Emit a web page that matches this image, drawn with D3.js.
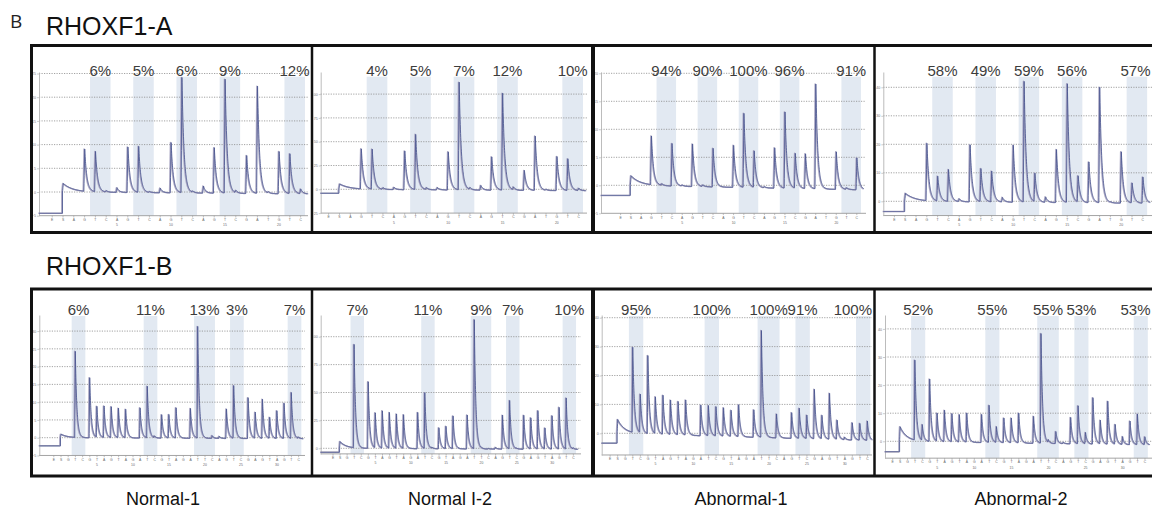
<!DOCTYPE html>
<html>
<head>
<meta charset="utf-8">
<script src="https://cdn.jsdelivr.net/npm/d3@7"></script>
<style>
  body { margin: 0; background: #fff; }
  svg { display: block; }
  text { font-family: "Liberation Sans", Arial, sans-serif; }
</style>
</head>
<body>
<svg id="fig" width="1152" height="517"></svg>
<script>
// ---- data ----
const samples = ['Normal-1', 'Normal I-2', 'Abnormal-1', 'Abnormal-2'];
const assays = ['RHOXF1-A', 'RHOXF1-B'];

// dispensation order (E, S, then 1..n)
const dispA = ['E','S','A','G','T','C','A','G','T','C','A','G','T','C','A','G','T','C','G','A','T','G','T','C'];
const dispB = ['E','S','G','T','C','G','T','A','G','T','A','G','A','T','C','G','T','A','G','A','T','T','C','A','G','T','C','G','A','G','T','A','G','T','C'];
const numsA = [5, 10, 15, 20];
const numsB = [5, 10, 15, 20, 25, 30];

// CpG sites: first dispensation and number of dispensations covered
const sitesA = [3, 7, 11, 15, 21];
const spanA = [2, 2, 2, 2, 2];
const sitesB = [2, 12, 19, 24, 32];
const spanB = [2, 2, 3, 2, 2];

// methylation %, one row per sample
const methA = [[6, 5, 6, 9, 12], [4, 5, 7, 12, 10], [94, 90, 100, 96, 91], [58, 49, 59, 56, 57]];
const methB = [[6, 11, 13, 3, 7], [7, 11, 9, 7, 10], [95, 100, 100, 91, 100], [52, 55, 55, 53, 53]];

// peak heights for dispensations 1..n
const peaksA1 = [0, 8.9, 8.5, 0.3, 1, 9.6, 9.7, 0.2, 1, 10.6, 24.3, 0.3, 1.5, 9.6, 24, 0.5, 8, 22.6, 0.3, 8.9, 8.4, 1];
const peaksA2 = [0, 42, 42, 1.7, 2.5, 40.7, 57.9, 2, 2.5, 40, 113, 2, 5, 35, 101.7, 3, 21, 57, 1, 35.8, 33.3, 2.5];
const peaksA3 = [0, 8.7, 0.3, 7.6, 0.2, 7.6, 0.3, 6.9, 0, 7.5, 13.2, 6.5, 0.2, 7.2, 13.6, 6.2, 6.2, 18.7, 0, 6.7, 0.3, 5.7];
const peaksA4 = [0, 20.1, 8.7, 11.2, 1, 20, 11.6, 10.8, 1.6, 20, 42.3, 10, 1.9, 18.6, 41.6, 9.2, 14.3, 40.5, 0.2, 18, 7, 9.2];

const peaksB1 = [0, 24.2, 0, 16.9, 8.7, 8.9, 8.7, 8.3, 8, 0, 8.5, 14.5, 0.5, 6.6, 6.6, 8.5, 0, 8.4, 31.4, 0, 0.8, 0.6, 8.3, 14.8, 0, 11.5, 7.3, 11, 5.9, 7.8, 9.9, 12.9, 0.4];
const peaksB2 = [0, 92.5, 0, 59.7, 31.3, 33.4, 32, 30.7, 30.1, 0, 32.5, 49.9, 1, 18.8, 20, 29.3, 0, 30.4, 115.5, 0.5, 0.5, 1.5, 30.4, 43.3, 0.5, 30.4, 27.8, 34.3, 18.8, 29.9, 37.3, 45.7, 1];
const peaksB3 = [0, 29.4, 13.3, 27, 12.7, 13.5, 11.9, 11.5, 12.1, 0, 10.6, 10.4, 10.1, 9.8, 9, 11, 0, 9.5, 36.9, 0, 8.3, 0, 8.9, 10.4, 8.1, 17.1, 8.1, 15.9, 6.6, 0.9, 6, 5.8, 6.7];
const peaksB4 = [0, 28.4, 5.6, 22.2, 10, 11.2, 10, 9.7, 10.3, 0, 10, 13.2, 5.6, 8.8, 8.8, 10.6, 0, 9.6, 39, 1, 4.3, 0.5, 9.4, 13.5, 4, 16.5, 8.4, 15.3, 7, 2.8, 8.4, 10.9, 2.8];

// signal before substrate, substrate step, baseline at end of run
const preA = [-4.5, -4.2, -1.8, -3.6];
const stepA = [1.8, 5.6, 1.7, 2.8];
const driftA = [-0.4, -1.5, -0.8, -0.7];
const preB = [-2.3, -3.6, -3.4, -3.7];
const stepB = [1, 6, 4.8, 5.2];
const driftB = [-0.3, -1, -2.5, -1.3];

// ---- layout ----
const rowLayout = [
  { top: 45.5, bottom: 232.5, yTop: 72, bandTop: 76.7, labelY: 75.5, titleY: 35, tau: 0.2 },
  { top: 289, bottom: 476, yTop: 315, bandTop: 316, labelY: 314.5, titleY: 275, tau: 0.22 }
];
const panelLeft = [32.5, 313.5, 595, 876];
const panelRight = [311, 591, 873.5, 1152];
const sepX = [312, 593, 874.5];
const sepW = [2.5, 4, 2.5];
const sampleX = [163, 450, 741, 1021];

const panelLayout = [
  [
    { x0: 39, xE: 51.7, step: 10.8, xEnd: 308, zeroY: 192, gridStep: 5, gridPx: 23.7, ymin: -5 },
    { x0: 320.7, xE: 328.1, step: 10.87, xEnd: 587, zeroY: 189.3, gridStep: 25, gridPx: 23.8, ymin: -25 },
    { x0: 601, xE: 620.1, step: 10.27, xEnd: 866, zeroY: 185.3, gridStep: 5, gridPx: 28, ymin: -5 },
    { x0: 883.3, xE: 893.9, step: 10.8, xEnd: 1160, zeroY: 201.3, gridStep: 10, gridPx: 28.5, ymin: -5 }
  ],
  [
    { x0: 39.3, xE: 53.3, step: 7.2, xEnd: 305, zeroY: 437.7, gridStep: 5, gridPx: 17.77, ymin: -5 },
    { x0: 320.7, xE: 332.5, step: 7.07, xEnd: 581, zeroY: 448.3, gridStep: 25, gridPx: 27.9, ymin: -5 },
    { x0: 601.7, xE: 609.6, step: 7.57, xEnd: 872, zeroY: 433.3, gridStep: 10, gridPx: 28.9, ymin: -7.5 },
    { x0: 885, xE: 892.2, step: 7.42, xEnd: 1160, zeroY: 441.3, gridStep: 10, gridPx: 28.1, ymin: -6 }
  ]
];

const rowsData = [
  { disp: dispA, nums: numsA, sites: sitesA, span: spanA, meth: methA,
    peaks: [peaksA1, peaksA2, peaksA3, peaksA4], pre: preA, sub: stepA, drift: driftA },
  { disp: dispB, nums: numsB, sites: sitesB, span: spanB, meth: methB,
    peaks: [peaksB1, peaksB2, peaksB3, peaksB4], pre: preB, sub: stepB, drift: driftB }
];

const svg = d3.select('#fig');
const defs = svg.append('defs');

svg.append('text')
  .attr('x', 10).attr('y', 28)
  .style('font-family', '"Open Sans", "Noto Sans", sans-serif')
  .style('font-size', '19px')
  .attr('fill', '#222')
  .text('B');

// peak shape: quick rise, exponential decay
const RISE = 0.08;
function shape(u, tau) {
  if (u < 0) return 0;
  if (u < RISE) return u / RISE;
  return Math.exp(-(u - RISE) / tau);
}

function buildTrace(heights, pre, sub, drift, t0, t1, tau) {
  const n = heights.length;
  let ts = d3.range(t0, t1, 0.015);
  heights.forEach((h, i) => { const p = i + 1 - 0.02; ts.push(p, p + RISE); });
  ts.push(-0.0001, 0, RISE, t1);
  ts = Array.from(new Set(ts.map(t => +t.toFixed(4)))).sort((a, b) => a - b);
  return ts.map(t => {
    if (t < 0) return [t, pre];
    let v = drift * t / n + sub * shape(t, 0.9);
    heights.forEach((h, i) => { v += h * shape(t - (i + 1 - 0.02), tau); });
    return [t, v];
  });
}

rowLayout.forEach((row, r) => {
  const D = rowsData[r];
  const n = D.disp.length - 2;

  svg.append('text')
    .attr('x', 46).attr('y', row.titleY)
    .style('font-size', '25px')
    .attr('fill', '#111')
    .text(assays[r]);

  panelLayout[r].forEach((L, k) => {
    const clipId = `clip-${r}-${k}`;
    defs.append('clipPath').attr('id', clipId)
      .append('rect')
      .attr('x', panelLeft[k]).attr('y', row.top + 1.5)
      .attr('width', panelRight[k] - panelLeft[k])
      .attr('height', row.bottom - row.top - 3);

    const g = svg.append('g').attr('clip-path', `url(#${clipId})`);

    const x = d3.scaleLinear().domain([-1, n]).range([L.xE, L.xE + (n + 1) * L.step]);
    const unit = L.gridPx / L.gridStep;
    const ymax = (L.zeroY - row.yTop) / unit;
    const y = d3.scaleLinear().domain([L.ymin, ymax]).range([L.zeroY - L.ymin * unit, row.yTop]);
    const axisY = y(L.ymin);

    // CpG bands
    g.selectAll('rect.band')
      .data(D.sites.map((s, i) => ({ s, w: D.span[i] })))
      .enter().append('rect')
      .attr('class', 'band')
      .attr('x', d => x(d.s - 0.45))
      .attr('width', d => x(d.s + d.w - 0.55) - x(d.s - 0.45))
      .attr('y', row.bandTop)
      .attr('height', axisY - row.bandTop)
      .attr('fill', '#e2e9f2');

    // dotted grid
    const gridVals = d3.range(0, ymax + 1e-6, L.gridStep);
    g.selectAll('line.grid')
      .data(gridVals)
      .enter().append('line')
      .attr('x1', L.x0).attr('x2', L.xEnd)
      .attr('y1', d => y(d)).attr('y2', d => y(d))
      .attr('stroke', '#8c8c8c')
      .attr('stroke-width', 0.8)
      .attr('stroke-dasharray', '1.2,1.3');

    // x axis line
    g.append('line')
      .attr('x1', L.x0).attr('x2', L.xEnd)
      .attr('y1', axisY).attr('y2', axisY)
      .attr('stroke', '#9a9a9a').attr('stroke-width', 0.9);

    // y axis
    const yTicks = d3.range(Math.ceil(L.ymin / L.gridStep) * L.gridStep, ymax + 1e-6, L.gridStep);
    const ya = g.append('g')
      .attr('transform', `translate(${L.x0},0)`)
      .call(d3.axisLeft(y).tickValues(yTicks).tickSize(2).tickSizeOuter(0).tickPadding(1));
    ya.select('.domain').attr('stroke', '#b4b4b4').attr('stroke-width', 0.9);
    ya.selectAll('.tick line').attr('stroke', '#aaa').attr('stroke-width', 0.6);
    ya.selectAll('.tick text').attr('fill', '#777').style('font-size', '3.6px');

    // dispensation letters
    const xa = g.append('g')
      .attr('transform', `translate(0,${axisY})`)
      .call(d3.axisBottom(x).tickValues(d3.range(-1, n + 1)).tickSize(1.8).tickPadding(1)
        .tickFormat(i => D.disp[i + 1]));
    xa.select('.domain').remove();
    xa.selectAll('.tick line').attr('stroke', '#999').attr('stroke-width', 0.6);
    xa.selectAll('.tick text').attr('fill', '#666').style('font-size', '3.4px');

    const xn = g.append('g')
      .attr('transform', `translate(0,${axisY + 7})`)
      .call(d3.axisBottom(x).tickValues(D.nums).tickSize(0).tickPadding(1));
    xn.select('.domain').remove();
    xn.selectAll('.tick text').attr('fill', '#666').style('font-size', '3.4px');

    // trace
    const t0 = x.invert(L.x0);
    const t1 = n + 0.75;
    const pts = buildTrace(D.peaks[k], D.pre[k], D.sub[k], D.drift[k], t0, t1, row.tau);
    const line = d3.line().x(d => x(d[0])).y(d => y(d[1]));
    g.append('path')
      .attr('d', line(pts))
      .attr('transform', 'translate(-0.7,0)')
      .attr('fill', 'none')
      .attr('stroke', '#aeabc6')
      .attr('stroke-width', 1.5)
      .attr('stroke-linejoin', 'round');
    g.append('path')
      .attr('d', line(pts))
      .attr('fill', 'none')
      .attr('stroke', '#4a5690')
      .attr('stroke-width', 0.85)
      .attr('stroke-linejoin', 'round');

    // methylation labels, kept inside the panel
    const maxX = Math.min(panelRight[k], 1152) - 1.5;
    g.selectAll('text.pct')
      .data(D.sites.map((s, i) => ({ c: s + (D.span[i] - 1) / 2, m: D.meth[k][i] })))
      .enter().append('text')
      .attr('class', 'pct')
      .attr('x', d => x(d.c))
      .attr('y', row.labelY)
      .attr('text-anchor', 'middle')
      .style('font-size', '15px')
      .attr('fill', '#3c3c3c')
      .text(d => d.m + '%')
      .each(function () {
        const w = this.getComputedTextLength();
        const cx = +this.getAttribute('x');
        if (cx + w / 2 > maxX) d3.select(this).attr('x', maxX - w / 2);
      });
  });

  // frame and separators
  svg.append('rect')
    .attr('x', 31.5).attr('y', row.top)
    .attr('width', 1140).attr('height', row.bottom - row.top)
    .attr('fill', 'none').attr('stroke', '#111').attr('stroke-width', 3);
  sepX.forEach((sx, i) => {
    svg.append('line')
      .attr('x1', sx).attr('x2', sx)
      .attr('y1', row.top).attr('y2', row.bottom)
      .attr('stroke', '#111').attr('stroke-width', sepW[i]);
  });
});

svg.selectAll('text.sample')
  .data(samples)
  .enter().append('text')
  .attr('class', 'sample')
  .attr('x', (d, i) => sampleX[i])
  .attr('y', 505)
  .attr('text-anchor', 'middle')
  .style('font-size', '18px')
  .attr('fill', '#111')
  .text(d => d);
</script>
</body>
</html>
